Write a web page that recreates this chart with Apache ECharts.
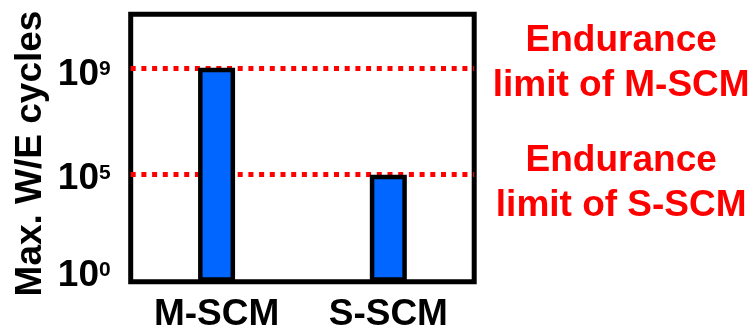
<!DOCTYPE html>
<html>
<head>
<meta charset="utf-8">
<script src="https://cdn.jsdelivr.net/npm/echarts@6/dist/echarts.min.js"></script>
<style>
  html, body { margin: 0; padding: 0; background: #ffffff; }
  #chart { width: 755px; height: 334px; }
</style>
</head>
<body>
<div id="chart"></div>
<script>
// Memory technologies and their maximum write/erase cycles
const categories = ['M-SCM', 'S-SCM'];
const maxCycles = [1e9, 1e5];

// Endurance limits drawn as dotted reference lines
const limitValues = [1e9, 1e5];
const limitLabels = [['Endurance', 'limit of M-SCM'], ['Endurance', 'limit of S-SCM']];

// Values that carry a tick label on the log axis
const tickValues = [1, 1e5, 1e9];

const FONT = "'Liberation Sans', Arial, sans-serif";

// Per-label vertical nudges for the power-of-ten labels:
// [top, bottom] padding of the base, and padding of the exponent
const labelPad = {
  0: { base: [0, 11], sup: [0, 0, 22.8, 0] },
  5: { base: [8, 0], sup: [0, 0, 3.8, 0] },
  9: { base: [14, 0], sup: [2.2, 0, 0, 0] }
};

const rich = {};
Object.keys(labelPad).forEach(function (e) {
  const p = labelPad[e];
  rich['b' + e] = {
    fontSize: 37, fontWeight: 'bold', fontFamily: FONT, color: '#000',
    lineHeight: 37, padding: [p.base[0], 0, p.base[1], 0]
  };
  rich['s' + e] = {
    fontSize: 21, fontWeight: 'bold', fontFamily: FONT, color: '#000',
    lineHeight: 21, verticalAlign: 'middle', padding: p.sup
  };
});

const limitText = {
  fontSize: 37, fontWeight: 'bold', fontFamily: FONT, color: '#ff0000', lineHeight: 45
};

const chart = echarts.init(document.getElementById('chart'), null, { renderer: 'canvas' });

chart.setOption({
  animation: false,
  backgroundColor: '#ffffff',
  grid: {
    left: 130.7, right: 280.8, top: 14.3, bottom: 52.3,
    show: true, borderColor: '#000000', borderWidth: 5,
    backgroundColor: 'transparent'
  },
  xAxis: {
    type: 'category',
    data: categories,
    axisLine: { show: false },
    axisTick: { show: false },
    splitLine: { show: false },
    axisLabel: {
      margin: 15,
      fontSize: 37, fontWeight: 'bold', fontFamily: FONT, color: '#000',
      lineHeight: 37
    }
  },
  yAxis: {
    type: 'log',
    min: 1,
    max: 1e11,
    // the decade between 10^0 and 10^1 is collapsed at the bottom of the axis
    breaks: [{ start: 1, end: 10, gap: 0 }],
    breakArea: { show: false },
    axisLine: { show: false },
    axisTick: { show: false },
    splitLine: { show: false },
    axisLabel: {
      customValues: tickValues,
      margin: 20,
      formatter: function (v) {
        const e = Math.round(Math.log10(v));
        return '{b' + e + '|10}{s' + e + '|' + e + '}';
      },
      rich: rich
    },
    name: 'Max. W/E cycles',
    nameLocation: 'middle',
    nameGap: 81,
    nameTextStyle: {
      fontSize: 37, fontWeight: 'bold', fontFamily: FONT, color: '#000',
      padding: [0, 11, 0, 0]
    }
  },
  series: [
    {
      type: 'line',
      data: [],
      z: 1,
      silent: true,
      markLine: {
        z: 1,
        silent: true,
        symbol: 'none',
        lineStyle: { color: '#ff0000', type: [5, 5.7], width: 5, cap: 'butt' },
        label: {
          show: true,
          position: 'end',
          distance: 147,
          align: 'center',
          color: '#ff0000',
          fontSize: 37, fontWeight: 'bold', fontFamily: FONT,
          lineHeight: 45,
          rich: {
            up: Object.assign({ padding: [0, 0, 9, 0] }, limitText),
            down: Object.assign({ padding: [17, 0, 0, 0] }, limitText)
          }
        },
        data: limitValues.map(function (v, i) {
          const t = limitLabels[i];
          const s = i === 0 ? 'up' : 'down';
          const text = '{' + s + '|' + t[0] + '}\n{' + s + '|' + t[1] + '}';
          return { yAxis: v, label: { formatter: text } };
        })
      }
    },
    {
      type: 'bar',
      data: maxCycles,
      z: 3,
      barWidth: 37,
      itemStyle: { color: '#0066ff', borderColor: '#000000', borderWidth: 4.5 }
    }
  ]
});
</script>
</body>
</html>
